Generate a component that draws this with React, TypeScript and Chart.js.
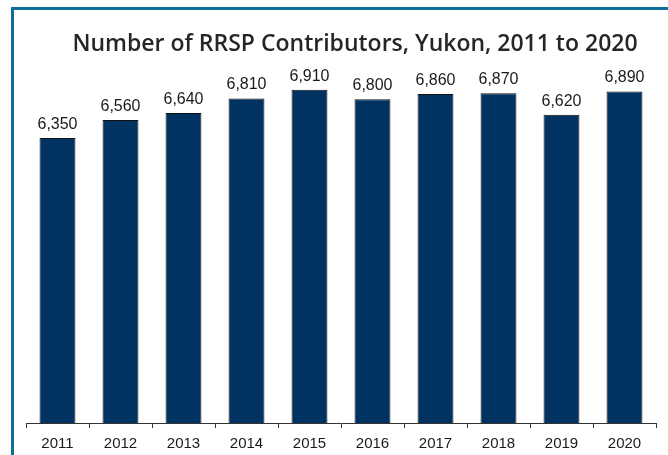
import React, { useEffect, useRef } from "react";
import { Chart, registerables } from "chart.js";

Chart.register(...registerables);

const years = ["2011", "2012", "2013", "2014", "2015", "2016", "2017", "2018", "2019", "2020"];
const contributors = [6350, 6560, 6640, 6810, 6910, 6800, 6860, 6870, 6620, 6890];
const chartTitle = "Number of RRSP Contributors, Yukon, 2011 to 2020";

const fmt = (v: number) => v.toLocaleString("en-US");

const titlePlugin = {
  id: "customTitle",
  afterDraw(chart: any) {
    const ctx = chart.ctx;
    ctx.save();
    ctx.font = "600 23px 'Open Sans', sans-serif";
    ctx.fillStyle = "#262626";
    ctx.textAlign = "center";
    ctx.textBaseline = "alphabetic";
    ctx.fillText(chartTitle, 355, 51);
    ctx.restore();
  },
};

const valueLabels = {
  id: "valueLabels",
  afterDatasetsDraw(chart: any) {
    const ctx = chart.ctx;
    const meta = chart.getDatasetMeta(0);
    ctx.save();
    ctx.font = "16px Arial, 'Liberation Sans', sans-serif";
    ctx.fillStyle = "#1a1a1a";
    ctx.textAlign = "center";
    ctx.textBaseline = "alphabetic";
    meta.data.forEach((bar: any, i: number) => {
      ctx.fillText(fmt(contributors[i]), bar.x, bar.y - 9);
    });
    ctx.restore();
  },
};

export default function App() {
  const ref = useRef<HTMLCanvasElement | null>(null);
  useEffect(() => {
    document.body.style.margin = "0";
    if (!ref.current) return;
    const chart = new Chart(ref.current, {
      type: "bar",
      data: {
        labels: years,
        datasets: [
          {
            data: contributors,
            backgroundColor: "#003361",
            borderColor: "#111111",
            borderWidth: 1,
            barPercentage: 0.57,
            categoryPercentage: 1,
          },
        ],
      },
      options: {
        animation: false,
        responsive: false,
        maintainAspectRatio: false,
        layout: { padding: { left: 26, right: 12, top: 82, bottom: -5 } },
        plugins: {
          legend: { display: false },
          title: { display: false },
          tooltip: { enabled: false },
        },
        scales: {
          x: {
            grid: {
              offset: true,
              drawOnChartArea: false,
              drawTicks: true,
              tickLength: 5,
              color: "#333333",
            },
            border: { display: true, color: "#333333", width: 1 },
            ticks: {
              color: "#1a1a1a",
              padding: 7,
              font: { family: "Arial, 'Liberation Sans', sans-serif", size: 15 },
            },
          },
          y: {
            display: false,
            min: 3050,
            max: 7000,
          },
        },
      },
      plugins: [titlePlugin, valueLabels],
    });
    return () => chart.destroy();
  }, []);

  return (
    <div style={{ position: "relative", width: 668, height: 455, background: "#fff", overflow: "hidden" }}>
      <div
        style={{
          position: "absolute",
          left: 11,
          top: 7,
          right: 0,
          bottom: 0,
          borderTop: "3px solid #126e9a",
          borderLeft: "3px solid #126e9a",
        }}
      />
      <canvas ref={ref} width={668} height={455} style={{ position: "absolute", left: 0, top: 0 }} />
    </div>
  );
}
